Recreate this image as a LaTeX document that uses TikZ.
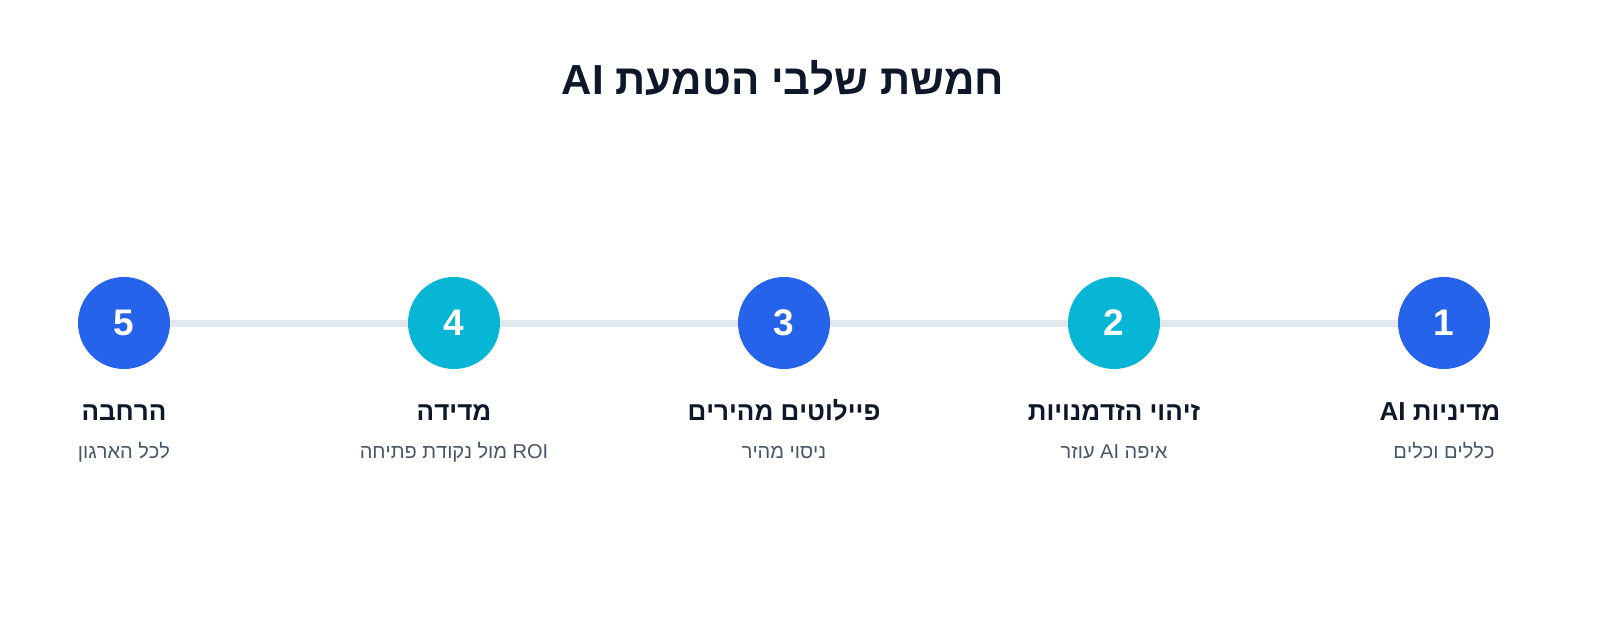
\documentclass[tikz,border=0pt]{standalone}
\usepackage{fontspec}
\setmainfont{Liberation Sans}
\TeXXeTstate=1
\definecolor{navy}{HTML}{0F172A}
\definecolor{slate}{HTML}{475569}
\definecolor{track}{HTML}{E2E8F0}
\definecolor{stepblue}{HTML}{2563EB}
\definecolor{stepcyan}{HTML}{06B6D4}
\tikzset{
  stepcircle/.style={circle, minimum size=92pt, inner sep=0pt, text=white, font=\fontsize{37}{40}\selectfont\bfseries},
  bluestep/.style={stepcircle, fill=stepblue},
  cyanstep/.style={stepcircle, fill=stepcyan},
  steptitle/.style={anchor=base, text=navy, inner sep=0pt, font=\fontsize{26}{30}\selectfont\bfseries},
  stepsub/.style={anchor=base, text=slate, inner sep=0pt, font=\fontsize{20}{24}\selectfont},
  trackline/.style={draw=track, line width=7pt},
  maintitle/.style={anchor=base, text=navy, inner sep=0pt, font=\fontsize{42}{48}\selectfont\bfseries}
}
\begin{document}
\begin{tikzpicture}[x=1pt,y=-1pt]
\useasboundingbox[fill=white] (0,0) rectangle (1600,640);
\node[maintitle] (title) at (783,94) {\beginR חמשת שלבי הטמעת \beginL AI\endL\endR};
\node[bluestep] (c1) at (1444,323) {1};
\node[cyanstep] (c2) at (1114,323) {2};
\node[bluestep] (c3) at (784,323) {3};
\node[cyanstep] (c4) at (454,323) {4};
\node[bluestep] (c5) at (124,323) {5};
\draw[trackline] (c5) -- (c4);
\draw[trackline] (c4) -- (c3);
\draw[trackline] (c3) -- (c2);
\draw[trackline] (c2) -- (c1);
\node[steptitle] (t1) at (1440,420) {\beginR מדיניות \beginL AI\endL\endR};
\node[stepsub] (s1) at (1444,458) {\beginR כללים וכלים\endR};
\node[steptitle] (t2) at (1114,420) {\beginR זיהוי הזדמנויות\endR};
\node[stepsub] (s2) at (1114,458) {\beginR איפה \beginL AI\endL{} עוזר\endR};
\node[steptitle] (t3) at (784,420) {\beginR פיילוטים מהירים\endR};
\node[stepsub] (s3) at (784,458) {\beginR ניסוי מהיר\endR};
\node[steptitle] (t4) at (454,420) {\beginR מדידה\endR};
\node[stepsub] (s4) at (454,458) {\beginR \beginL ROI\endL{} מול נקודת פתיחה\endR};
\node[steptitle] (t5) at (124,420) {\beginR הרחבה\endR};
\node[stepsub] (s5) at (124,458) {\beginR לכל הארגון\endR};
\end{tikzpicture}
\end{document}
